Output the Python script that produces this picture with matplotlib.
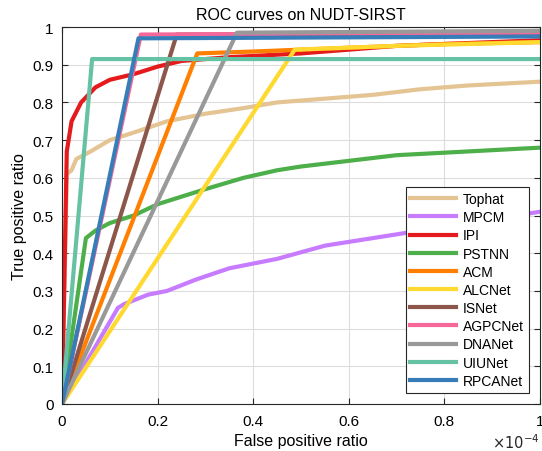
import numpy as np
import matplotlib.pyplot as plt

plt.rcParams['font.family'] = ['Liberation Sans', 'DejaVu Sans']

# false positive ratio in units of 1e-4, true positive ratio
tophat_x = [0, 0.01, 0.02, 0.03, 0.06, 0.1, 0.15, 0.22, 0.3, 0.38, 0.45, 0.55, 0.65, 0.75, 0.85, 1.0]
tophat_y = [0, 0.61, 0.62, 0.65, 0.67, 0.70, 0.72, 0.75, 0.77, 0.785, 0.80, 0.81, 0.82, 0.835, 0.845, 0.855]
mpcm_x = [0, 0.117, 0.13, 0.18, 0.22, 0.28, 0.35, 0.45, 0.55, 0.65, 0.75, 0.85, 1.0]
mpcm_y = [0, 0.255, 0.265, 0.29, 0.30, 0.33, 0.36, 0.385, 0.42, 0.44, 0.46, 0.48, 0.51]
ipi_x = [0, 0.01, 0.02, 0.04, 0.07, 0.1, 0.15, 0.2, 0.25, 0.35, 0.5, 0.7, 1.0]
ipi_y = [0, 0.67, 0.75, 0.80, 0.84, 0.86, 0.875, 0.895, 0.91, 0.92, 0.93, 0.95, 0.965]
pstnn_x = [0, 0.05, 0.07, 0.1, 0.15, 0.2, 0.25, 0.3, 0.38, 0.45, 0.5, 0.6, 0.7, 0.85, 1.0]
pstnn_y = [0, 0.44, 0.46, 0.48, 0.50, 0.53, 0.55, 0.57, 0.60, 0.62, 0.63, 0.645, 0.66, 0.67, 0.68]
acm_x = [0, 0.283, 0.4, 0.6, 0.8, 1.0]
acm_y = [0, 0.93, 0.935, 0.945, 0.955, 0.96]
alcnet_x = [0, 0.487, 0.7, 1.0]
alcnet_y = [0, 0.94, 0.95, 0.96]
isnet_x = [0, 0.24, 1.0]
isnet_y = [0, 0.98, 0.98]
agpcnet_x = [0, 0.165, 1.0]
agpcnet_y = [0, 0.98, 0.985]
dnanet_x = [0, 0.366, 1.0]
dnanet_y = [0, 0.985, 0.99]
uiunet_x = [0, 0.063, 1.0]
uiunet_y = [0, 0.915, 0.915]
rpcanet_x = [0, 0.16, 1.0]
rpcanet_y = [0, 0.97, 0.975]

names = ['Tophat', 'MPCM', 'IPI', 'PSTNN', 'ACM', 'ALCNet', 'ISNet', 'AGPCNet', 'DNANet', 'UIUNet', 'RPCANet']
xs = [tophat_x, mpcm_x, ipi_x, pstnn_x, acm_x, alcnet_x, isnet_x, agpcnet_x, dnanet_x, uiunet_x, rpcanet_x]
ys = [tophat_y, mpcm_y, ipi_y, pstnn_y, acm_y, alcnet_y, isnet_y, agpcnet_y, dnanet_y, uiunet_y, rpcanet_y]
colors = ['#E5C494', '#C77CFF', '#E41A1C', '#4DAF4A', '#FF7F00', '#FFD92F',
          '#8C564B', '#F7689A', '#999999', '#66C2A5', '#377EB8']
xtick_labels = ['0', '0.2', '0.4', '0.6', '0.8', '1']
ytick_labels = ['0', '0.1', '0.2', '0.3', '0.4', '0.5', '0.6', '0.7', '0.8', '0.9', '1']

fig = plt.figure(figsize=(5.42, 4.52), dpi=100)
ax = fig.add_axes([0.1144, 0.104, 0.8819, 0.834])

for x, y, c, n in zip(xs, ys, colors, names):
    ax.plot(x, y, color=c, lw=3, label=n)

ax.set_xlim(0, 1)
ax.set_ylim(0, 1)
ax.set_xticks(np.linspace(0, 1, len(xtick_labels)))
ax.set_xticklabels(xtick_labels)
ax.set_yticks(np.linspace(0, 1, len(ytick_labels)))
ax.set_yticklabels(ytick_labels)

ax.tick_params(direction='in', top=True, right=True, labelsize=11, length=4, color='#262626')
ax.tick_params(axis='x', pad=7)
ax.tick_params(axis='y', pad=6)
ax.grid(True, color='#dcdcdc', lw=0.8)
for s in ax.spines.values():
    s.set_color('#262626')
    s.set_linewidth(0.8)

ax.set_title('ROC curves on NUDT-SIRST', fontsize=11.5, pad=6)
ax.set_xlabel('False positive ratio', fontsize=11.5, labelpad=4)
ax.set_ylabel('True positive ratio', fontsize=11.5, labelpad=4)
ax.text(1.0, -0.075, r'$\times 10^{-4}$', transform=ax.transAxes, ha='right', va='top',
        fontsize=10.5, color='#262626')

leg = ax.legend(loc='lower right', fontsize=10, handlelength=3.3, labelspacing=0.3,
                fancybox=False, edgecolor='#262626', framealpha=1,
                bbox_to_anchor=(0.977, 0.03), borderaxespad=0,
                handletextpad=0.5, borderpad=0.35)
leg.get_frame().set_linewidth(0.8)

fig.savefig('out.png', dpi=100)
